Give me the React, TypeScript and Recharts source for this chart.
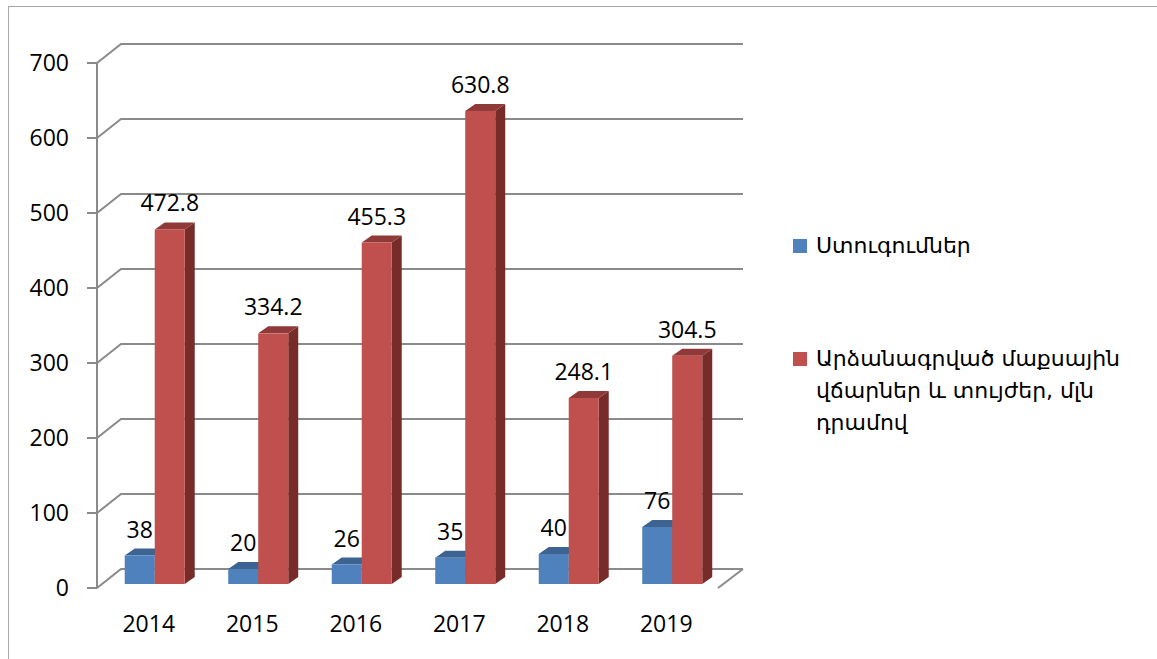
import { BarChart, Bar, XAxis, YAxis, CartesianGrid, LabelList } from "recharts";

const YEARS = ["2014", "2015", "2016", "2017", "2018", "2019"];
const INSPECTIONS = [38, 20, 26, 35, 40, 76];
const FINES = [472.8, 334.2, 455.3, 630.8, 248.1, 304.5];
const Y_TICKS = [0, 100, 200, 300, 400, 500, 600, 700];
const EDGE_TICKS = [...YEARS.map((_, i) => i), YEARS.length];

const SERIES_BLUE = "Ստուգումներ";
const SERIES_RED = ["Արձանագրված մաքսային", "վճարներ և տույժեր, մլն", "դրամով"];

const AXIS = "#8a8a8a";
const FONT = "'Open Sans', 'DejaVu Sans', sans-serif";

// 3d look: back wall offset and bar depth
const WALL_DX = 24;
const WALL_DY = -19;
const BAR_SHIFT_X = 6;
const BAR_SHIFT_Y = -4;
const DEPTH_X = 10;
const DEPTH_Y = -7;

const data = YEARS.map((year, i) => ({ year, blue: INSPECTIONS[i], red: FINES[i] }));

function bar3d(front: string, top: string, side: string) {
  return (props: any) => {
    const { x, y, width, height } = props;
    if (width == null || height == null) return <g />;
    const x0 = x + BAR_SHIFT_X;
    const y0 = y + BAR_SHIFT_Y;
    const x1 = x0 + width;
    const y1 = y0 + height;
    return (
      <g>
        <polygon
          points={`${x1},${y0} ${x1 + DEPTH_X},${y0 + DEPTH_Y} ${x1 + DEPTH_X},${y1 + DEPTH_Y} ${x1},${y1}`}
          fill={side}
        />
        <polygon
          points={`${x0},${y0} ${x0 + DEPTH_X},${y0 + DEPTH_Y} ${x1 + DEPTH_X},${y0 + DEPTH_Y} ${x1},${y0}`}
          fill={top}
        />
        <rect x={x0} y={y0} width={width} height={height} fill={front} />
      </g>
    );
  };
}

function ValueLabel(props: any) {
  const { x, y, width, value } = props;
  return (
    <text
      x={x + width / 2 + BAR_SHIFT_X}
      y={y - 22}
      textAnchor="middle"
      fontSize={23}
      fontFamily={FONT}
      fill="#000"
    >
      {value}
    </text>
  );
}

function GridLine(props: any) {
  const { x1, y1, x2, index } = props;
  const bx = x1 + WALL_DX;
  const by = y1 + WALL_DY;
  return (
    <g key={`g-${index}-${y1}`}>
      <path
        d={`M${x1},${y1} L${bx},${by} L${x2 + WALL_DX + 1},${by}`}
        stroke={AXIS}
        strokeWidth={2}
        fill="none"
      />
      {index === 0 || Math.abs(y1 - 588) < 1 ? (
        <path d={`M${x2},${y1} L${x2 + WALL_DX + 1},${by}`} stroke={AXIS} strokeWidth={2} fill="none" />
      ) : null}
    </g>
  );
}

const legendSwatch = (color: string) => ({
  display: "inline-block",
  width: 14,
  height: 14,
  background: color,
  marginRight: 9,
  verticalAlign: "middle",
});

export default function App() {
  return (
    <div style={{ position: "absolute", left: 0, top: 0, width: 1157, height: 659, background: "#fff" }}>
      <div
        style={{
          position: "absolute",
          left: 8,
          top: 6,
          right: 0,
          bottom: 0,
          borderLeft: "1px solid #a6a6a6",
          borderTop: "1px solid #a6a6a6",
        }}
      />
      <div style={{ position: "absolute", left: 0, top: 0 }}>
        <BarChart
          width={1157}
          height={659}
          data={data}
          margin={{ top: 63, right: 439, bottom: 0, left: 0 }}
          barCategoryGap="21%"
          barGap={0}
        >
          <CartesianGrid vertical={false} horizontal={GridLine as any} />
          <XAxis
            xAxisId="edge"
            type="number"
            domain={[0, YEARS.length]}
            ticks={EDGE_TICKS}
            height={0}
            tickSize={10}
            tickFormatter={() => ""}
            axisLine={{ stroke: AXIS, strokeWidth: 2 }}
            tickLine={{ stroke: AXIS, strokeWidth: 2 }}
          />
          <XAxis
            dataKey="year"
            height={71}
            interval={0}
            axisLine={false}
            tickLine={false}
            tickSize={0}
            tickMargin={28}
            tick={{ fill: "#000", fontSize: 23, fontFamily: FONT }}
          />
          <YAxis
            domain={[0, 700]}
            ticks={Y_TICKS}
            interval={0}
            width={97}
            tickSize={10}
            tickMargin={18}
            axisLine={{ stroke: AXIS, strokeWidth: 2 }}
            tickLine={{ stroke: AXIS, strokeWidth: 2 }}
            tick={{ fill: "#000", fontSize: 23, fontFamily: FONT }}
          />
          <Bar dataKey="blue" fill="#4f81bd" shape={bar3d("#4f81bd", "#3c6391", "#2f4f75")} isAnimationActive={false}>
            <LabelList dataKey="blue" content={ValueLabel} />
          </Bar>
          <Bar dataKey="red" fill="#c0504d" shape={bar3d("#c0504d", "#8f3a38", "#772c2a")} isAnimationActive={false}>
            <LabelList dataKey="red" content={ValueLabel} />
          </Bar>
        </BarChart>
      </div>
      <div
        style={{
          position: "absolute",
          left: 793,
          top: 229,
          fontFamily: "'DejaVu Sans', sans-serif",
          fontSize: 22,
          color: "#000",
          lineHeight: "32px",
        }}
      >
        <div>
          <span style={legendSwatch("#4f81bd")} />
          <span style={{ verticalAlign: "middle" }}>{SERIES_BLUE}</span>
        </div>
        <div style={{ marginTop: 81, display: "flex", alignItems: "flex-start" }}>
          <span style={{ ...legendSwatch("#c0504d"), marginTop: 9 }} />
          <div>
            {SERIES_RED.map((line) => (
              <div key={line}>{line}</div>
            ))}
          </div>
        </div>
      </div>
    </div>
  );
}
